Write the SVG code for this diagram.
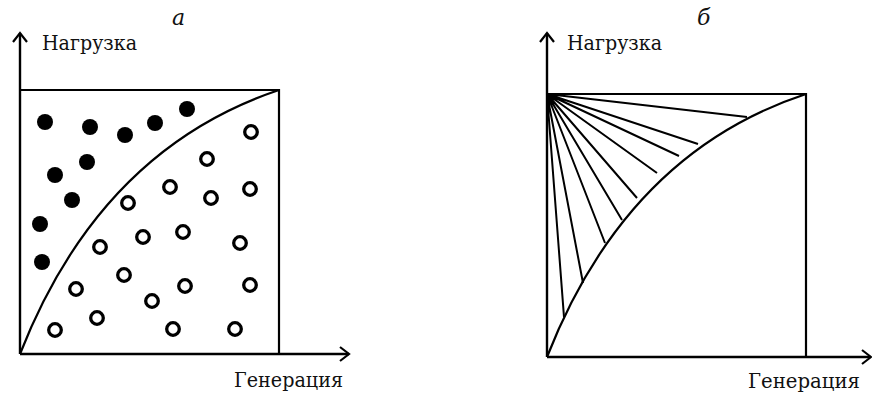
<svg xmlns="http://www.w3.org/2000/svg" width="872" height="398" viewBox="0 0 872 398">
<style>
.ln{fill:none;stroke:#000;stroke-width:2.2}
.ax{fill:none;stroke:#000;stroke-width:2.4}
.ar{fill:none;stroke:#000;stroke-width:2.2;stroke-linejoin:miter}
.fd{fill:#000}
.od{fill:#fff;stroke:#000;stroke-width:3.3}
.t{font-family:"DejaVu Serif","Liberation Serif",serif;font-size:21px;fill:#111}
.it{font-family:"DejaVu Serif","Liberation Serif",serif;font-size:22px;font-style:italic;fill:#111}
.fan{fill:none;stroke:#000;stroke-width:2}
</style>
<rect width="872" height="398" fill="#fff"/>
<g id="panel-a">
  <text class="it" x="172" y="25">а</text>
  <g id="axes-a">
    <path class="ax" d="M20,354 V33 M20,354 H349"/>
    <path class="ar" d="M13,42 L20,33 L27,42"/>
    <path class="ar" d="M340,347 L349,354 L340,361"/>
  </g>
  <text class="t" x="42" y="50" textLength="95" lengthAdjust="spacingAndGlyphs">Нагрузка</text>
  <text class="t" x="234" y="387" textLength="109" lengthAdjust="spacingAndGlyphs">Генерация</text>
  <g id="box-a">
    <path class="ln" d="M20,90 H279 V354"/>
    <path class="ln" d="M20,354 Q100,150 279,90"/>
  </g>
  <g id="filled-dots">
    <circle class="fd" cx="45" cy="122" r="8"/>
    <circle class="fd" cx="90" cy="127" r="8"/>
    <circle class="fd" cx="125" cy="135" r="8"/>
    <circle class="fd" cx="155" cy="123" r="8"/>
    <circle class="fd" cx="187" cy="109" r="8"/>
    <circle class="fd" cx="87" cy="162" r="8"/>
    <circle class="fd" cx="55" cy="175" r="8"/>
    <circle class="fd" cx="72" cy="200" r="8"/>
    <circle class="fd" cx="40" cy="224" r="8"/>
    <circle class="fd" cx="42" cy="262" r="8"/>
  </g>
  <g id="open-dots">
    <circle class="od" cx="251" cy="132" r="6.3"/>
    <circle class="od" cx="207" cy="159" r="6.3"/>
    <circle class="od" cx="170" cy="187" r="6.3"/>
    <circle class="od" cx="250" cy="189" r="6.3"/>
    <circle class="od" cx="211" cy="198" r="6.3"/>
    <circle class="od" cx="128" cy="203" r="6.3"/>
    <circle class="od" cx="183" cy="232" r="6.3"/>
    <circle class="od" cx="143" cy="237" r="6.3"/>
    <circle class="od" cx="240" cy="243" r="6.3"/>
    <circle class="od" cx="100" cy="247" r="6.3"/>
    <circle class="od" cx="124" cy="275" r="6.3"/>
    <circle class="od" cx="76" cy="289" r="6.3"/>
    <circle class="od" cx="185" cy="286" r="6.3"/>
    <circle class="od" cx="250" cy="285" r="6.3"/>
    <circle class="od" cx="152" cy="301" r="6.3"/>
    <circle class="od" cx="97" cy="318" r="6.3"/>
    <circle class="od" cx="55" cy="330" r="6.3"/>
    <circle class="od" cx="173" cy="329" r="6.3"/>
    <circle class="od" cx="235" cy="329" r="6.3"/>
  </g>
</g>
<g id="panel-b">
  <text class="it" x="697" y="25">б</text>
  <g id="axes-b">
    <path class="ax" d="M547,357 V33 M547,357 H870"/>
    <path class="ar" d="M540,42 L547,33 L554,42"/>
    <path class="ar" d="M862,350 L871,357 L862,364"/>
  </g>
  <text class="t" x="567" y="50" textLength="95" lengthAdjust="spacingAndGlyphs">Нагрузка</text>
  <text class="t" x="748" y="388" textLength="112" lengthAdjust="spacingAndGlyphs">Генерация</text>
  <g id="box-b">
    <path class="ln" d="M547,94 H806 V357"/>
    <path class="ln" d="M547,357 Q627,153 806,94"/>
  </g>
  <g id="fan">
    <path class="fan" d="M547,94 L747,117 M547,94 L698,144 M547,94 L679,156 M547,94 L657,173 M547,94 L637,198 M547,94 L622,220 M547,94 L605,243 M547,94 L583,283 M547,94 L564,317"/>
  </g>
</g>
</svg>
